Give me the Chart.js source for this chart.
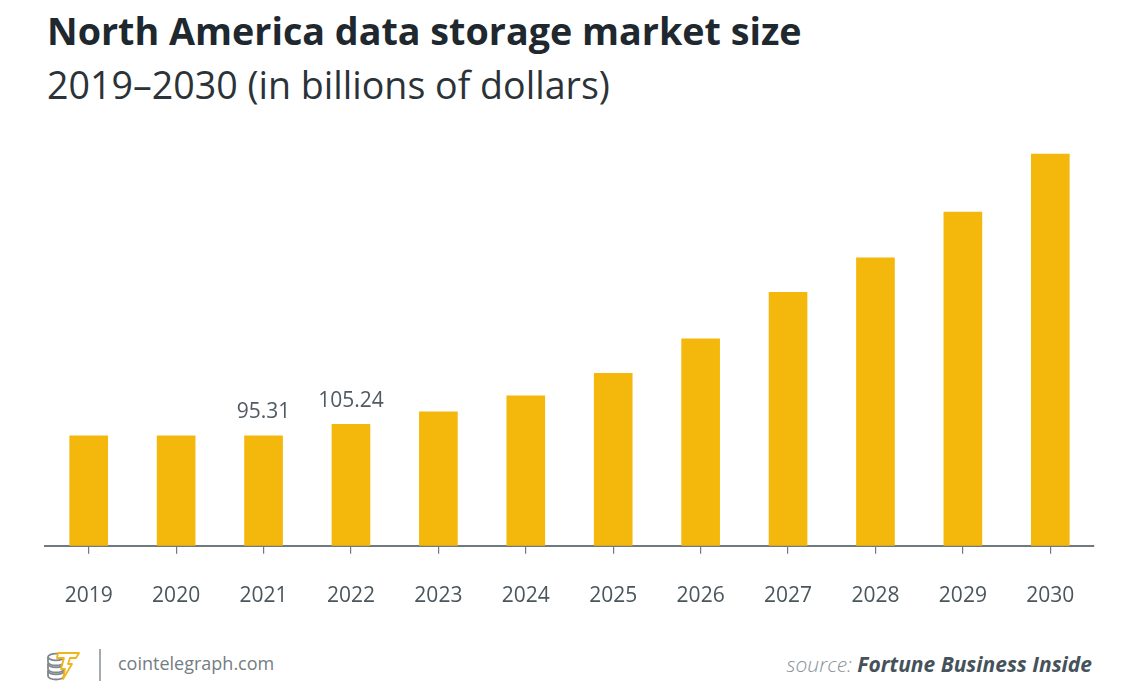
<!DOCTYPE html>
<html>
<head>
<meta charset="utf-8">
<script src="https://cdn.jsdelivr.net/npm/chart.js@4.4.1/dist/chart.umd.min.js"></script>
<style>
  html, body { margin: 0; padding: 0; background: #fff; }
  body { width: 1140px; height: 694px; position: relative; overflow: hidden; font-family: "Open Sans", sans-serif; }
  .title { position: absolute; left: 47px; top: 5px; font-size: 37.7px; font-weight: 700; color: #1e282e; white-space: nowrap; }
  .subtitle { position: absolute; left: 47px; top: 59px; font-size: 37.6px; font-weight: 400; color: #2b3338; white-space: nowrap; }
  .chart-box { position: absolute; left: 0; top: 120px; width: 1140px; height: 519px; }
  .foot-logo { position: absolute; left: 45px; top: 647px; }
  .foot-sep { position: absolute; left: 99px; top: 649px; width: 2px; height: 32px; background: #a3abaf; }
  .foot-site { position: absolute; left: 118px; top: 651px; font-size: 18px; color: #737d82; font-weight: 400; white-space: nowrap; }
  .foot-src { position: absolute; right: 48px; top: 650px; font-size: 21px; font-style: italic; color: #8a9297; white-space: nowrap; font-weight: 300; }
  .foot-src b { color: #46525a; font-weight: 700; }
</style>
</head>
<body>
<div class="title">North America data storage market size</div>
<div class="subtitle">2019–2030 (in billions of dollars)</div>
<div class="chart-box"><canvas id="chart"></canvas></div>

<div class="foot-logo">
  <svg width="40" height="36" viewBox="0 0 40 36">
    <g fill="#fff" stroke="#7f888d" stroke-width="1.8">
      <path d="M3 24v5c0 2 3.6 3.5 8 3.5s8-1.5 8-3.5v-5"/>
      <ellipse cx="11" cy="24" rx="8" ry="3.3"/>
      <path d="M3 17v5c0 2 3.6 3.5 8 3.5s8-1.5 8-3.5v-5"/>
      <ellipse cx="11" cy="17" rx="8" ry="3.3"/>
      <path d="M3 10v5c0 2 3.6 3.5 8 3.5s8-1.5 8-3.5v-5"/>
      <ellipse cx="11" cy="10" rx="8" ry="3.3"/>
    </g>
    <path d="M13 6h21l-3 5h-6l-2 6h4l-9 15 2-10h-4l3-11h-7z" fill="#fff" stroke="#f1b51c" stroke-width="1.8" stroke-linejoin="round"/>
  </svg>
</div>
<div class="foot-sep"></div>
<div class="foot-site">cointelegraph.com</div>
<div class="foot-src">source: <b>Fortune Business Inside</b></div>

<script>
// Jahre und Marktgröße (Mrd. USD)
const years = ['2019', '2020', '2021', '2022', '2023', '2024', '2025', '2026', '2027', '2028', '2029', '2030'];
const marketSize = [95.3, 95.3, 95.31, 105.24, 116.1, 130.0, 149.6, 179.6, 219.8, 249.8, 289.4, 339.7];
// nur diese Balken tragen eine Wertbeschriftung
const labelledYears = ['2021', '2022'];

const BAR = '#f4b70b';

// Wertbeschriftung über ausgewählten Balken
const valueLabels = {
  id: 'valueLabels',
  afterDatasetsDraw(chart) {
    const { ctx } = chart;
    const meta = chart.getDatasetMeta(0);
    ctx.save();
    ctx.font = '21px "Open Sans", sans-serif';
    ctx.fillStyle = '#4f5b62';
    ctx.textAlign = 'center';
    ctx.textBaseline = 'bottom';
    years.forEach((y, i) => {
      if (!labelledYears.includes(y)) return;
      const bar = meta.data[i];
      ctx.fillText(String(marketSize[i]), bar.x, bar.y - 13);
    });
    ctx.restore();
  },
};

new Chart(document.getElementById('chart').getContext('2d'), {
  type: 'bar',
  data: {
    labels: years,
    datasets: [{
      data: marketSize,
      backgroundColor: BAR,
      borderWidth: 0,
      barThickness: 38,
    }],
  },
  options: {
    responsive: true,
    maintainAspectRatio: false,
    animation: false,
    layout: { padding: { left: 45, right: 46, top: 28, bottom: 0 } },
    plugins: {
      legend: { display: false },
      tooltip: { enabled: false },
    },
    scales: {
      x: {
        grid: { display: true, offset: false, drawOnChartArea: false, drawTicks: true, tickLength: 8, color: '#6f7a80', lineWidth: 1.2 },
        border: { display: true, color: '#6f7a80', width: 2 },
        ticks: { color: '#4a565c', font: { family: 'Open Sans', size: 21 }, padding: 30 },
      },
      y: {
        display: false,
        min: 0,
        max: 345,
      },
    },
  },
  plugins: [valueLabels],
});
</script>
</body>
</html>
